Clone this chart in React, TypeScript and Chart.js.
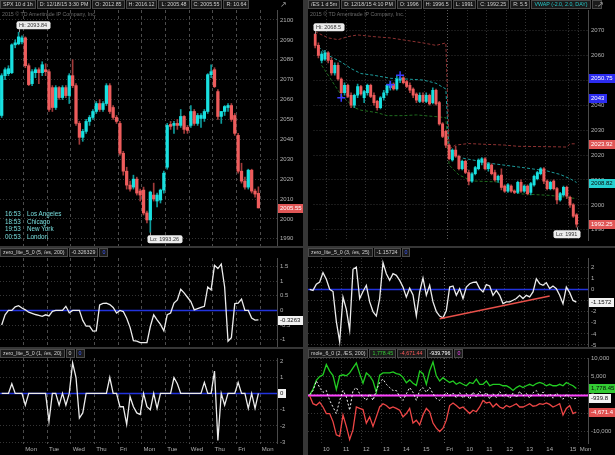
import React, { useEffect, useRef } from 'react';
import { Chart, registerables } from 'chart.js';

Chart.register(...registerables);

const FONT = '"Liberation Sans", Arial, sans-serif';

// ===================== SPX 10 d 1h (hourly bars) =====================
const spxOpen = [2052, 2072, 2073, 2073.5, 2087.5, 2088, 2089, 2091, 2077, 2068, 2073.5, 2075, 2073.5, 2075, 2074, 2066, 2056, 2066, 2061, 2066, 2062, 2072, 2067, 2048, 2041, 2044, 2049, 2051, 2054, 2058, 2055, 2058, 2067, 2056, 2051, 2048, 2033, 2024, 2017, 2016, 2020, 2014, 2014.5, 2003, 1999.5, 2012, 2009, 2009.5, 2014.5, 2026, 2047.5, 2047, 2048, 2047, 2051.5, 2046, 2047, 2054, 2048, 2050.5, 2050.5, 2054, 2072.5, 2075, 2064, 2051.5, 2054, 2056, 2057, 2052, 2042, 2024, 2019, 2016, 2024.5, 2014, 2012.85];
const spxHigh = [2073, 2076, 2077, 2088, 2090, 2093.84, 2092, 2091.5, 2078, 2075, 2076, 2076, 2079, 2078, 2075, 2067, 2067, 2066.5, 2067, 2067, 2073, 2080, 2068, 2049, 2045, 2050, 2052, 2055, 2059, 2060, 2059, 2068, 2068, 2057, 2052, 2049, 2034, 2026, 2019, 2022, 2021, 2015, 2016, 2004, 2014, 2018, 2013, 2015, 2024, 2048, 2049, 2049, 2050, 2055, 2052, 2047, 2057, 2055, 2053, 2053, 2055, 2073, 2077.5, 2076, 2065, 2054, 2057, 2058, 2058, 2053, 2043, 2028, 2021, 2025, 2025, 2015, 2016.12];
const spxLow = [2051, 2070, 2072, 2073, 2086, 2087.5, 2088, 2076, 2067, 2067, 2071, 2068, 2072, 2072, 2054, 2054, 2055, 2060, 2060, 2061, 2058, 2066, 2047, 2037.5, 2039, 2043, 2047, 2050, 2053, 2054, 2054, 2057, 2053, 2050, 2048, 2032, 2022, 2015, 2014, 2015, 2012, 2009, 2002, 1998, 1993.26, 2009, 2006, 2008, 2013, 2025, 2045, 2043, 2045, 2046, 2043, 2043, 2046, 2047, 2047, 2046, 2049, 2053, 2071, 2066, 2050, 2048, 2052, 2054, 2049, 2042, 2023, 2018, 2015, 2015, 2013, 2011, 2005.48];
const spxClose = [2072, 2075, 2075.5, 2087.5, 2088.5, 2091.5, 2091, 2077, 2067.5, 2074, 2075, 2073.5, 2077.5, 2074, 2055, 2056, 2066, 2061, 2066, 2062, 2072, 2067, 2048, 2041, 2044, 2049, 2051, 2054, 2058, 2055, 2058, 2067, 2054, 2051, 2049, 2033, 2024, 2017, 2015, 2020, 2013, 2012, 2003, 1999.5, 2013.5, 2010, 2012, 2014.5, 2023, 2047, 2046.5, 2048, 2047, 2051.5, 2045, 2044.5, 2054, 2048, 2052, 2052, 2054, 2072.5, 2074, 2066.5, 2051.5, 2054, 2056.5, 2057, 2050, 2043, 2024, 2019, 2016, 2024.5, 2014, 2012.5, 2005.55];
const spxZeroLite200 = [-0.5, -0.15, 0, 0, 0.12, 0.16, 0.08, 0.02, -0.06, -0.1, -0.14, -0.17, -0.2, -0.15, -0.19, -0.03, 0, 0, 0, 0.14, -0.08, 0, 0, 0, -0.34, -0.54, -0.54, -0.71, -0.7, 0.19, 0.24, 0.25, 0.2, 0.1, -0.09, 0, -0.04, -0.27, -0.58, -1.03, -1.05, -1.1, -1.1, -1.1, -0.55, -0.15, -0.32, -0.48, -0.7, -0.15, -0.09, 0.25, 0.36, 0.72, 0.6, 0.45, 0.3, 0.02, 0.06, 0.1, 0.14, 0.8, 0.7, 1.54, 1.43, 1.58, 0.8, -1.05, -0.93, 0.23, 0.25, 0.39, 0, 0, -0.26, -0.33, -0.326];
const spxZeroLite20 = [0, 0, 0, 0.6, 0, 0, 0, -0.72, 0, 0, 0, 0, 0, 0, -1.72, 0, 0, -0.72, 0, -0.72, 0, 1.88, 0.98, -1.52, -1.2, 0, 0, 0, 0, 0, 0, 0, 0.98, 0, 0, -0.82, -0.82, -1.9, -0.2, -0.82, -1.2, -1.3, 0, -0.82, -1.0, 0, -0.92, 0, 0, 0, 0, 0.98, 0.6, 0, 0, 0, 0, 0, 0, 0, 0.68, 0, 0, 1.38, -2.9, 0, -0.72, 0, 0, 0, 0.68, 0, 0, -0.92, 0, -0.92, 0];
const spxDayNames = ['Mon', 'Tue', 'Wed', 'Thu', 'Fri', 'Mon', 'Tue', 'Wed', 'Thu', 'Fri', 'Mon'];
const spxBarsPerDay = 7;
const spxFirstDayBar = 7;
const spxSlots = 82;
const spxPriceTicks = [1990, 2000, 2010, 2020, 2030, 2040, 2050, 2060, 2070, 2080, 2090, 2100];
const spxZL200Ticks = [-1, -0.5, 0, 0.5, 1, 1.5];
const spxZL20Ticks = [-3, -2, -1, 0, 1, 2];

// ===================== /ES 1 d 5m =====================
const esOpen = [2068.5, 2064, 2058, 2058.5, 2061, 2058, 2053, 2056, 2050.5, 2045, 2048, 2044, 2040, 2044, 2047.5, 2043, 2045, 2048, 2044, 2041.5, 2039, 2043, 2045, 2047, 2048.5, 2046.5, 2050, 2051, 2049.5, 2048, 2046.5, 2044.5, 2041.5, 2044, 2041.5, 2044, 2041, 2046, 2041, 2032.5, 2029.5, 2024, 2018, 2022, 2019.5, 2014.5, 2017.5, 2013, 2009.5, 2012.5, 2014.5, 2017, 2018.5, 2014.5, 2016, 2013, 2010, 2012, 2007.5, 2005.5, 2007.5, 2005.5, 2005, 2009, 2005.5, 2007.5, 2005, 2008, 2010.5, 2012.5, 2014.5, 2009.5, 2006.5, 2009.5, 2006.5, 2002, 2004, 2007, 2003, 2000, 1996];
const esHigh = [2068.5, 2065, 2061.5, 2062, 2061.5, 2059, 2057, 2057, 2051, 2049, 2048.5, 2045, 2044.5, 2048.5, 2048, 2046, 2048.5, 2048.5, 2045, 2042, 2043.5, 2046, 2048.5, 2049.5, 2049, 2052, 2051.5, 2051.5, 2050, 2049, 2047, 2045, 2045, 2045, 2045, 2044.5, 2047, 2046.5, 2041.5, 2033, 2030, 2024.5, 2022.5, 2023.5, 2020, 2018, 2018, 2014, 2013, 2015.5, 2018.5, 2019, 2019, 2017, 2016.5, 2014, 2012, 2014.5, 2008, 2008.5, 2008, 2006, 2009.5, 2010, 2008, 2008, 2009, 2012, 2013.5, 2015, 2015, 2010, 2009.5, 2010, 2007, 2005, 2007.5, 2007.5, 2003.5, 2000.5, 1996.5];
const esLow = [2063, 2059, 2057, 2058, 2057, 2052, 2052, 2050, 2043, 2044, 2043, 2039, 2039, 2043, 2044, 2041, 2044, 2043, 2040, 2038, 2038.5, 2042, 2044, 2046, 2046, 2046, 2049, 2048.5, 2047, 2045, 2043, 2041, 2041, 2041, 2041, 2040, 2040.5, 2040, 2032, 2027, 2023, 2018, 2017.5, 2019, 2014, 2014, 2012.5, 2008, 2009, 2012, 2014, 2016, 2014, 2013.5, 2012, 2009.5, 2009, 2006, 2005, 2005, 2005, 2004.5, 2004.5, 2005, 2005, 2004, 2004, 2007.5, 2010, 2012, 2008.5, 2006, 2006, 2006, 2000.5, 2001.5, 2003.5, 2002.5, 1999, 1995, 1991];
const esClose = [2064, 2060, 2060.5, 2061, 2058, 2053, 2056, 2050.5, 2045, 2048, 2043.5, 2040, 2044, 2047.5, 2044.5, 2045.5, 2048, 2043.5, 2041, 2039, 2043, 2045, 2048, 2048.5, 2046.5, 2050.5, 2051, 2049, 2047.5, 2046, 2044, 2042, 2044, 2041.5, 2044, 2040.5, 2046, 2040.5, 2032.5, 2027.5, 2024, 2018.5, 2022, 2019.5, 2014.5, 2017.5, 2013, 2009.5, 2012.5, 2015, 2018, 2018.5, 2014.5, 2016.5, 2012.5, 2010, 2011.5, 2007, 2005.5, 2008, 2005.5, 2005, 2009, 2005.5, 2007.5, 2004.5, 2008.5, 2011.5, 2013, 2014.5, 2009.5, 2006.5, 2009, 2006.5, 2002, 2004.5, 2007, 2003.5, 2000, 1995.5, 1992.25];
const esUpperBand: [number, number][] = [[0, 2069.5], [4, 2067], [7, 2066.3], [10, 2067.5], [13, 2068.2], [18, 2067.5], [23, 2067], [28, 2066], [33, 2065], [37, 2064], [40, 2065], [41, 2022.5], [43, 2024], [47, 2024.6], [52, 2024.3], [58, 2024], [62, 2023.5], [68, 2023.4], [74, 2023.3], [77, 2023.2], [78, 2024.5], [80, 2024.5]];
const esVwap: [number, number][] = [[1, 2063.5], [4, 2060], [8, 2057.3], [11, 2054.7], [14, 2052.7], [18, 2052], [23, 2050.8], [28, 2050.5], [33, 2050.1], [37, 2048.8], [40, 2046.5], [41, 2022], [45, 2018.8], [54, 2016.6], [64, 2014.9], [71, 2013.6], [75, 2012.2], [78, 2010.5], [80, 2009]];
const esLowerBand: [number, number][] = [[2, 2056], [5, 2050], [8, 2044], [12, 2039], [14, 2038], [19, 2037], [22, 2035.8], [27, 2035.8], [31, 2036.1], [37, 2035.4], [40, 2035], [41, 2016], [44, 2012], [48, 2009.6], [56, 2009.2], [60, 2006], [63, 2004.4], [72, 2003.8], [77, 2003], [80, 2002.5]];
const esMarkers: [number, number][] = [[8, 2043], [23, 2048.2], [26, 2052]];
const esZeroLite25 = [0, -0.1, 0.45, 0.65, 1.5, 0.9, 0, -0.2, -2.9, -4.7, -0.7, -1.8, -3.66, 1.8, 2.0, -0.83, -0.2, 0.36, -1.13, -2.0, -2.4, -0.83, 2.4, 1.4, 0.8, 1.4, 1.25, 0.8, 0.2, -0.7, 0.1, -0.5, -2.38, -0.24, 1.0, -0.54, 0.36, -1.13, -2.0, -2.4, -2.56, -1.9, 0.2, 0.3, -0.54, 0.06, -0.83, 0.2, 0.5, 0.62, 0.65, 0.06, -0.24, 0.42, 0.3, -0.54, -0.09, -0.54, -1.28, -1.13, -1.13, -0.98, -0.83, -0.54, -0.83, -0.54, -0.68, -0.24, 0.95, 0.5, 0.36, 0.6, 0.06, 0.3, 0.06, -0.54, -1.3, 0.2, -0.3, -1.0, -1.157];
const esTrend: [number, number][] = [[39, -2.65], [72, -0.6]];
const moleUpper = [0, 1500, 4000, 5000, 5500, 8300, 6500, 5300, 1500, 5200, 5500, 5200, 6000, 7400, 8700, 5800, 3200, 6000, 5200, 3800, 700, 5400, 6000, 6000, 6000, 6300, 5800, 5600, 4800, 3300, 4100, 3200, 2600, 6500, 5800, 2900, 6600, 9000, 5200, 3800, 4700, 4000, 3400, 3800, 2900, 3400, 2900, 2500, 3400, 3100, 4300, 2900, 2900, 3800, 2500, 2900, 2900, 2900, 2500, 2500, 2000, 1200, 2000, 2500, 2000, 2500, 2900, 2500, 3100, 3400, 3100, 2500, 2900, 2500, 2500, 2900, 2500, 3400, 2900, 2500, 1778.45];
const moleLower = [-200, -2400, -2850, -2000, -3300, -5100, -5100, -7300, -10900, -11300, -5500, -8600, -12200, -9500, -3300, -3700, -4000, -7700, -6000, -8600, -6000, -3300, -2400, -2900, -3700, -3300, -3700, -4200, -6000, -5100, -3700, -7700, -6900, -8200, -5500, -3700, -4600, -7700, -9100, -10000, -9100, -6900, -2900, -2200, -2900, -3700, -3300, -4200, -5100, -4200, -4600, -3300, -1500, -2200, -2000, -3300, -2400, -3300, -3700, -2900, -3300, -2900, -2400, -3300, -3300, -2900, -2400, -3100, -2900, -2400, -2600, -2200, -2600, -3300, -2900, -2400, -5500, -3700, -2900, -5100, -4671.44];
const moleMid = [0, 1200, 3800, 2000, 700, 1200, -1500, -3300, -5100, -1500, 1200, -500, -4200, 1200, 2000, 300, -500, -1500, 300, -1500, 1200, 3400, 4300, 2900, 2000, 1200, 1200, -500, -1500, 300, 2000, 700, -1500, 1200, 2000, 700, 2000, 300, -1000, -1500, -500, 700, -200, 500, -800, 600, -900, 400, -1200, 800, -600, 1000, -300, 700, -1100, 300, -700, 900, -400, 200, -1000, 500, -700, 1000, -300, 400, -900, 600, 1200, -400, 800, -600, 300, -900, 500, -300, -1200, 200, -600, -1100, -939.796];
const esAxisLabels: Record<number, string> = { 4: '10', 10: '11', 16: '12', 22: '13', 28: '14', 34: '15', 41: 'Fri', 47: '10', 53: '11', 59: '12', 65: '13', 71: '14', 78: '15', 81: 'Mon' };
const esSlots = 84;
const esPriceTicks = [1990, 2000, 2010, 2020, 2030, 2040, 2050, 2060, 2070];
const esZL25Ticks = [-5, -4, -3, -2, -1, 0, 1, 2];
const moleTicks = [-10000, -5000, 0, 5000, 10000];

// ===================== styling =====================
const UP = '#18e0e0';
const DOWN = '#ee5c5c';
const UP_WICK = '#0e9c9c';
const DOWN_WICK = '#a23b3b';

const spxLabels = Array.from({ length: spxSlots }, (_, i) => {
  const k = i - spxFirstDayBar;
  return k >= 0 && k % spxBarsPerDay === 0 ? spxDayNames[k / spxBarsPerDay] || '' : '';
});
const esLabels = Array.from({ length: esSlots }, (_, i) => esAxisLabels[i] || '');

const sparse = (pts: [number, number][], n: number) => {
  const a: (number | null)[] = new Array(n).fill(null);
  pts.forEach(([i, v]) => { a[i] = v; });
  return a;
};

const plainFmt = (v: number) => String(v);
const groupedFmt = (v: number) => v.toLocaleString('en-US');

interface Tag { value: number; text: string; bg: string; fg: string }
interface Bubble { index: number; value: number; text: string; below: boolean }
interface RefLine { value: number; color: string; width: number }

function overlay(o: { tags?: Tag[]; bubbles?: Bubble[]; refLines?: RefLine[] }) {
  return {
    id: 'overlay',
    beforeDatasetsDraw(chart: any) {
      const { ctx, chartArea: a } = chart;
      const ys = chart.scales.y;
      (o.refLines || []).forEach((r) => {
        const py = Math.round(ys.getPixelForValue(r.value)) + 0.5;
        ctx.save();
        ctx.strokeStyle = r.color;
        ctx.lineWidth = r.width;
        ctx.beginPath();
        ctx.moveTo(a.left, py);
        ctx.lineTo(a.right, py);
        ctx.stroke();
        ctx.restore();
      });
    },
    afterDraw(chart: any) {
      const { ctx, chartArea: a } = chart;
      const xs = chart.scales.x;
      const ys = chart.scales.y;
      ctx.save();
      ctx.font = `6px ${FONT}`;
      ctx.textBaseline = 'middle';
      ctx.textAlign = 'left';
      (o.tags || []).forEach((t) => {
        const py = Math.round(ys.getPixelForValue(t.value));
        const w = Math.ceil(ctx.measureText(t.text).width) + 4;
        ctx.fillStyle = t.bg;
        ctx.fillRect(a.right + 1, py - 4, w, 9);
        ctx.fillStyle = t.fg;
        ctx.fillText(t.text, a.right + 3, py + 0.5);
      });
      ctx.font = `5.5px ${FONT}`;
      (o.bubbles || []).forEach((b) => {
        const px = Math.round(xs.getPixelForValue(b.index)) + 0.5;
        const py = ys.getPixelForValue(b.value);
        const w = Math.ceil(ctx.measureText(b.text).width) + 5;
        const h = 8;
        let left = px - 3;
        if (left + w > a.right) left = px + 3 - w;
        if (left < a.left) left = a.left;
        const top = b.below ? py + 3 : py - 3 - h;
        ctx.strokeStyle = '#9a9a9a';
        ctx.lineWidth = 1;
        ctx.beginPath();
        ctx.moveTo(px, py);
        ctx.lineTo(px, b.below ? top : top + h);
        ctx.stroke();
        ctx.fillStyle = '#ececec';
        ctx.beginPath();
        ctx.roundRect(left, top, w, h, 2);
        ctx.fill();
        ctx.fillStyle = '#333';
        ctx.fillText(b.text, left + 2.5, top + h / 2 + 0.5);
      });
      ctx.restore();
    },
  };
}

function baseOptions(p: {
  yMin: number; yMax: number; yTicks: number[]; gridColor: (c: any) => string; xDash: number[];
  showX: boolean; axisW: number; padTop: number; fmt?: (v: number) => string;
}) {
  return {
    responsive: false,
    animation: false,
    events: [],
    layout: { padding: { top: p.padTop, left: 0, right: 0, bottom: 0 } },
    plugins: { legend: { display: false }, tooltip: { enabled: false } },
    scales: {
      x: {
        type: 'category',
        offset: true,
        afterFit: (s: any) => { s.paddingLeft = 0; s.paddingRight = 0; },
        grid: { offset: true, drawTicks: false, color: p.gridColor, lineWidth: 1 },
        border: { display: false, dash: p.xDash },
        ticks: {
          display: p.showX, autoSkip: false, maxRotation: 0, minRotation: 0, align: 'start',
          padding: 2, color: '#b0b0b0', font: { family: FONT, size: 6 },
        },
      },
      y: {
        type: 'linear',
        position: 'right',
        min: p.yMin,
        max: p.yMax,
        afterBuildTicks: (s: any) => { s.ticks = p.yTicks.map((v) => ({ value: v })); },
        afterFit: (s: any) => { s.width = p.axisW; s.paddingTop = 0; s.paddingBottom = 0; },
        grid: { color: '#353535', drawTicks: false },
        border: { display: true, color: '#4a4a4a', dash: [1, 2] },
        ticks: {
          color: '#b0b0b0', padding: 3, font: { family: FONT, size: 6 },
          callback: (v: number) => (p.fmt || plainFmt)(v),
        },
      },
    },
  };
}

const spxGrid = (c: any) => (c.tick && c.tick.label ? '#4c4c4c' : 'transparent');
const esGrid = (c: any) => (!c.tick || !c.tick.label ? 'transparent' : c.tick.label === 'Fri' ? '#5e5e5e' : '#333333');

function candleSets(open: number[], high: number[], low: number[], close: number[], bodyW: number) {
  const up = close.map((c, i) => c >= open[i]);
  return [
    {
      type: 'bar', data: open.map((o, i) => [o, close[i]]), backgroundColor: up.map((u) => (u ? UP : DOWN)),
      barThickness: bodyW, grouped: false, minBarLength: 1, order: 0,
    },
    {
      type: 'bar', data: low.map((l, i) => [l, high[i]]), backgroundColor: up.map((u) => (u ? UP_WICK : DOWN_WICK)),
      barThickness: 1, grouped: false, order: 1,
    },
  ];
}

const lineSet = (data: (number | null)[], color: string, width: number, extra: any = {}) => ({
  type: 'line', data, borderColor: color, borderWidth: width, pointRadius: 0, tension: 0, spanGaps: true, ...extra,
});

// ---------- chart factories ----------
const makeSpxPrice = () => ({
  type: 'bar',
  data: { labels: spxLabels, datasets: candleSets(spxOpen, spxHigh, spxLow, spxClose, 2.6) },
  options: baseOptions({ yMin: 1986.4, yMax: 2105, yTicks: spxPriceTicks, gridColor: spxGrid, xDash: [3, 3], showX: false, axisW: 26, padTop: 10 }),
  plugins: [overlay({
    tags: [{ value: 2005.55, text: '2005.55', bg: '#e05656', fg: '#ffffff' }],
    bubbles: [
      { index: 5, value: 2093.84, text: 'Hi: 2093.84', below: false },
      { index: 44, value: 1993.26, text: 'Lo: 1993.26', below: true },
    ],
  })],
});

const makeSpxZL200 = () => ({
  type: 'line',
  data: { labels: spxLabels, datasets: [lineSet(spxZeroLite200, '#ececec', 1.3)] },
  options: baseOptions({ yMin: -1.25, yMax: 1.79, yTicks: spxZL200Ticks, gridColor: spxGrid, xDash: [3, 3], showX: false, axisW: 26, padTop: 10 }),
  plugins: [overlay({
    refLines: [{ value: 0, color: '#2233dd', width: 1.5 }],
    tags: [{ value: -0.326329, text: '-0.3263', bg: '#f2f2f2', fg: '#111' }],
  })],
});

const makeSpxZL20 = () => ({
  type: 'line',
  data: { labels: spxLabels, datasets: [lineSet(spxZeroLite20, '#ececec', 1.3)] },
  options: baseOptions({ yMin: -3.1, yMax: 2.18, yTicks: spxZL20Ticks, gridColor: spxGrid, xDash: [3, 3], showX: true, axisW: 26, padTop: 9 }),
  plugins: [overlay({
    refLines: [{ value: 0, color: '#2233dd', width: 1.5 }],
    tags: [{ value: 0, text: '0', bg: '#f2f2f2', fg: '#111' }],
  })],
});

const makeEsPrice = () => ({
  type: 'bar',
  data: {
    labels: esLabels,
    datasets: [
      ...candleSets(esOpen, esHigh, esLow, esClose, 2.3),
      lineSet(sparse(esUpperBand, esSlots), '#8e3232', 1, { borderDash: [3, 2], order: 3 }),
      lineSet(sparse(esVwap, esSlots), '#1d9c9c', 1, { borderDash: [3, 2], order: 3 }),
      lineSet(sparse(esLowerBand, esSlots), '#1f6b1f', 1, { borderDash: [3, 2], order: 3 }),
      {
        type: 'line', data: sparse(esMarkers, esSlots), showLine: false, pointStyle: 'cross',
        pointRadius: 4, borderColor: '#3a3aff', pointBorderWidth: 1.5, order: -1,
      },
    ],
  },
  options: baseOptions({ yMin: 1985.7, yMax: 2078.2, yTicks: esPriceTicks, gridColor: esGrid, xDash: [1, 2], showX: false, axisW: 27, padTop: 10 }),
  plugins: [overlay({
    tags: [
      { value: 2050.75, text: '2050.75', bg: '#2c2cf0', fg: '#ffffff' },
      { value: 2043, text: '2043', bg: '#2c2cf0', fg: '#ffffff' },
      { value: 2024.3, text: '2023.92', bg: '#e05656', fg: '#ffffff' },
      { value: 2008.82, text: '2008.82', bg: '#26d2d2', fg: '#0a0a0a' },
      { value: 1992.25, text: '1992.25', bg: '#e05656', fg: '#ffffff' },
    ],
    bubbles: [
      { index: 0, value: 2068.5, text: 'Hi: 2068.5', below: false },
      { index: 80, value: 1991, text: 'Lo: 1991', below: true },
    ],
  })],
});

const makeEsZL25 = () => ({
  type: 'line',
  data: {
    labels: esLabels,
    datasets: [
      lineSet(sparse(esTrend, esSlots), '#e8504a', 1.5),
      lineSet(esZeroLite25, '#ececec', 1.3),
    ],
  },
  options: baseOptions({ yMin: -5.18, yMax: 2.81, yTicks: esZL25Ticks, gridColor: esGrid, xDash: [1, 2], showX: false, axisW: 27, padTop: 10 }),
  plugins: [overlay({
    refLines: [{ value: 0, color: '#2233dd', width: 1.5 }],
    tags: [{ value: -1.15724, text: '-1.1572', bg: '#f2f2f2', fg: '#111' }],
  })],
});

const makeMole = () => ({
  type: 'line',
  data: {
    labels: esLabels,
    datasets: [
      lineSet(moleMid, '#f4f4f4', 1, { borderDash: [2, 2] }),
      lineSet(moleUpper, '#22cc22', 1.3),
      lineSet(moleLower, '#ee4646', 1.3),
    ],
  },
  options: baseOptions({ yMin: -13360, yMax: 10080, yTicks: moleTicks, gridColor: esGrid, xDash: [1, 2], showX: true, axisW: 27, padTop: 9, fmt: groupedFmt }),
  plugins: [overlay({
    refLines: [{ value: 0, color: '#ff44ff', width: 2 }],
    tags: [
      { value: 1778.45, text: '1,778.45', bg: '#33cc33', fg: '#0a0a0a' },
      { value: -939.796, text: '-939.8', bg: '#f2f2f2', fg: '#111' },
      { value: -4671.44, text: '-4,671.4', bg: '#e05050', fg: '#ffffff' },
    ],
  })],
});

// ---------- components ----------
function Panel({ left, top, width, height, make }: { left: number; top: number; width: number; height: number; make: () => any }) {
  const ref = useRef<HTMLCanvasElement>(null);
  useEffect(() => {
    const chart = new Chart(ref.current as HTMLCanvasElement, make() as any);
    return () => chart.destroy();
  }, []);
  return (
    <div style={{ position: 'absolute', left, top, width, height, background: '#000' }}>
      <canvas ref={ref} width={width} height={height} style={{ width, height, display: 'block' }} />
    </div>
  );
}

function Header({ left, top, items }: { left: number; top: number; items: { t: string; c?: string }[] }) {
  return (
    <div style={{ position: 'absolute', left, top, display: 'flex', height: 9, fontFamily: FONT, fontSize: 5.3, lineHeight: '7px' }}>
      {items.map((it, i) => (
        <span key={i} style={{ border: '1px solid #4a4a4a', background: '#1b1b1b', color: it.c || '#cfcfcf', padding: '0 2px', marginRight: 1, whiteSpace: 'nowrap', height: 7 }}>
          {it.t}
        </span>
      ))}
    </div>
  );
}

const Watermark = ({ left }: { left: number }) => (
  <div style={{ position: 'absolute', left, top: 11, fontFamily: FONT, fontSize: 5.3, color: '#6a6a6a', whiteSpace: 'nowrap' }}>
    2015 © TD Ameritrade IP Company, Inc.
  </div>
);

const clocks = [['16:53', 'Los Angeles'], ['18:53', 'Chicago'], ['19:53', 'New York'], ['00:53', 'London']];

export default function App() {
  return (
    <div style={{ position: 'fixed', left: 0, top: 0, width: 615, height: 455, background: '#363636', overflow: 'hidden' }}>
      <Panel left={0} top={0} width={303} height={246} make={makeSpxPrice} />
      <Panel left={0} top={248} width={303} height={99} make={makeSpxZL200} />
      <Panel left={0} top={349} width={303} height={106} make={makeSpxZL20} />
      <Panel left={308} top={0} width={307} height={246} make={makeEsPrice} />
      <Panel left={308} top={248} width={307} height={99} make={makeEsZL25} />
      <Panel left={308} top={349} width={307} height={106} make={makeMole} />

      <Header left={0} top={0} items={[{ t: 'SPX 10 d 1h' }, { t: 'D: 12/18/15 3:30 PM' }, { t: 'O: 2012.85' }, { t: 'H: 2016.12' }, { t: 'L: 2005.48' }, { t: 'C: 2005.55' }, { t: 'R: 10.64' }]} />
      <Header left={308} top={0} items={[{ t: '/ES 1 d 5m' }, { t: 'D: 12/18/15 4:10 PM' }, { t: 'O: 1996' }, { t: 'H: 1996.5' }, { t: 'L: 1991' }, { t: 'C: 1992.25' }, { t: 'R: 5.5' }, { t: 'VWAP (-2.0, 2.0, DAY)', c: '#26c8c8' }, { t: '...' }]} />
      <Header left={0} top={248} items={[{ t: 'zero_lite_5_0 (5, /es, 200)' }, { t: '-0.326329' }, { t: '0', c: '#3f5cff' }]} />
      <Header left={0} top={349} items={[{ t: 'zero_lite_5_0 (1, /es, 20)' }, { t: '0' }, { t: '0', c: '#3f5cff' }]} />
      <Header left={308} top={248} items={[{ t: 'zero_lite_5_0 (3, /es, 25)' }, { t: '-1.15724' }, { t: '0', c: '#3f5cff' }]} />
      <Header left={308} top={349} items={[{ t: 'mole_6_0 (2, /ES, 200)' }, { t: '1,778.45', c: '#35cc35' }, { t: '-4,671.44', c: '#ff5a5a' }, { t: '-939.796', c: '#ffffff' }, { t: '0', c: '#ff44ff' }]} />

      <Watermark left={2} />
      <Watermark left={310} />

      <div style={{ position: 'absolute', left: 280, top: 0, fontFamily: 'DejaVu Sans', fontSize: 8, color: '#9a9a9a' }}>↗</div>
      <div style={{ position: 'absolute', left: 597, top: 0, fontFamily: 'DejaVu Sans', fontSize: 8, color: '#9a9a9a' }}>↗</div>

      <div style={{ position: 'absolute', left: 5, top: 210, fontFamily: FONT, fontSize: 6.3, lineHeight: '7.7px', color: '#78dede' }}>
        {clocks.map(([t, c]) => (
          <div key={c} style={{ display: 'flex', whiteSpace: 'nowrap' }}>
            <span style={{ width: 22 }}>{t}</span>
            <span>{c}</span>
          </div>
        ))}
      </div>
    </div>
  );
}
